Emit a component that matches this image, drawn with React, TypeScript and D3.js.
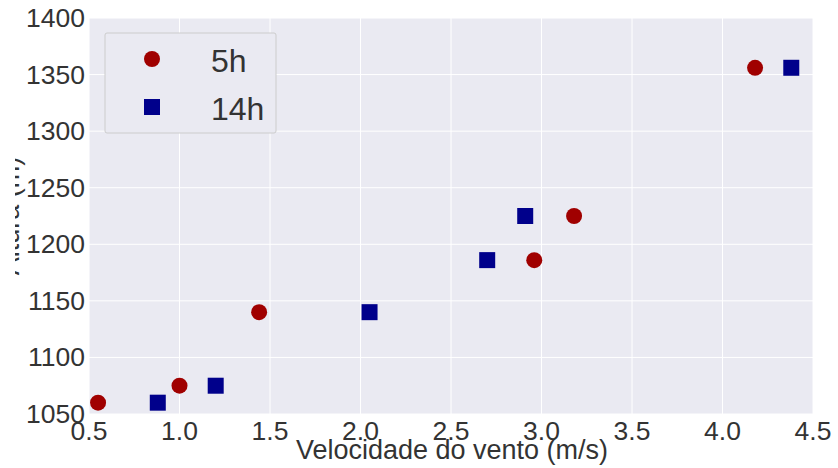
import React from "react";
import * as d3 from "d3";

const series5hX = [0.55, 1.0, 1.44, 2.96, 3.18, 4.18];
const series5hY = [1060, 1075, 1140, 1186, 1225, 1356];
const series14hX = [0.88, 1.2, 2.05, 2.7, 2.91, 4.38];
const series14hY = [1060, 1075, 1140, 1186, 1225, 1356];
const xTicks = [0.5, 1.0, 1.5, 2.0, 2.5, 3.0, 3.5, 4.0, 4.5];
const yTicks = [1050, 1100, 1150, 1200, 1250, 1300, 1350, 1400];
const legendLabels = ["5h", "14h"];

const W = 838;
const H = 468;
const left = 89;
const right = 813;
const top = 18;
const bottom = 414;
const red = "#a00000";
const blue = "#00008b";
const textColor = "#333333";
const font = "Liberation Sans, Arial, sans-serif";

export default function App() {
  const x = d3.scaleLinear().domain([0.5, 4.5]).range([left, right]);
  const y = d3.scaleLinear().domain([1050, 1400]).range([bottom, top]);
  const ms = 16;
  return (
    <svg
      width={W}
      height={H}
      style={{ position: "absolute", left: 0, top: 0, background: "#fff" }}
      fontFamily={font}
    >
      <defs>
        <clipPath id="ylabclip">
          <rect x={15} y={0} width={40} height={H} />
        </clipPath>
      </defs>
      <rect x={left} y={top} width={right - left} height={bottom - top} fill="#eaeaf2" />
      {xTicks.map((t) => (
        <line key={"gx" + t} x1={x(t)} x2={x(t)} y1={top} y2={bottom} stroke="#fff" strokeWidth={1} />
      ))}
      {yTicks.map((t) => (
        <line key={"gy" + t} x1={left} x2={right} y1={y(t)} y2={y(t)} stroke="#fff" strokeWidth={1} />
      ))}
      {series5hX.map((v, i) => (
        <circle key={"c" + i} cx={x(v)} cy={y(series5hY[i])} r={ms / 2} fill={red} />
      ))}
      {series14hX.map((v, i) => (
        <rect key={"s" + i} x={x(v) - ms / 2} y={y(series14hY[i]) - ms / 2} width={ms} height={ms} fill={blue} />
      ))}
      {yTicks.map((t) => (
        <text key={"ty" + t} x={85} y={y(t) + 9} textAnchor="end" fontSize={26.5} fill={textColor}>
          {t}
        </text>
      ))}
      {xTicks.map((t) => (
        <text key={"tx" + t} x={x(t)} y={440} textAnchor="middle" fontSize={26.5} fill={textColor}>
          {t.toFixed(1)}
        </text>
      ))}
      <text x={452} y={459} textAnchor="middle" fontSize={27} fill={textColor}>
        Velocidade do vento (m/s)
      </text>
      <g clipPath="url(#ylabclip)">
        <text
          transform={`translate(18.5,${(top + bottom) / 2}) rotate(-90)`}
          textAnchor="middle"
          fontSize={27}
          fill={textColor}
        >
          Altura (m)
        </text>
      </g>
      <g>
        <rect x={105} y={33} width={171} height={100} fill="#eaeaf2" stroke="#cccccc" strokeWidth={1} rx={2} />
        <circle cx={152} cy={59} r={ms / 2} fill={red} />
        <rect x={152 - ms / 2} y={107 - ms / 2} width={ms} height={ms} fill={blue} />
        <text x={211} y={72} fontSize={32} fill={textColor}>{legendLabels[0]}</text>
        <text x={211} y={120} fontSize={32} fill={textColor}>{legendLabels[1]}</text>
      </g>
    </svg>
  );
}
